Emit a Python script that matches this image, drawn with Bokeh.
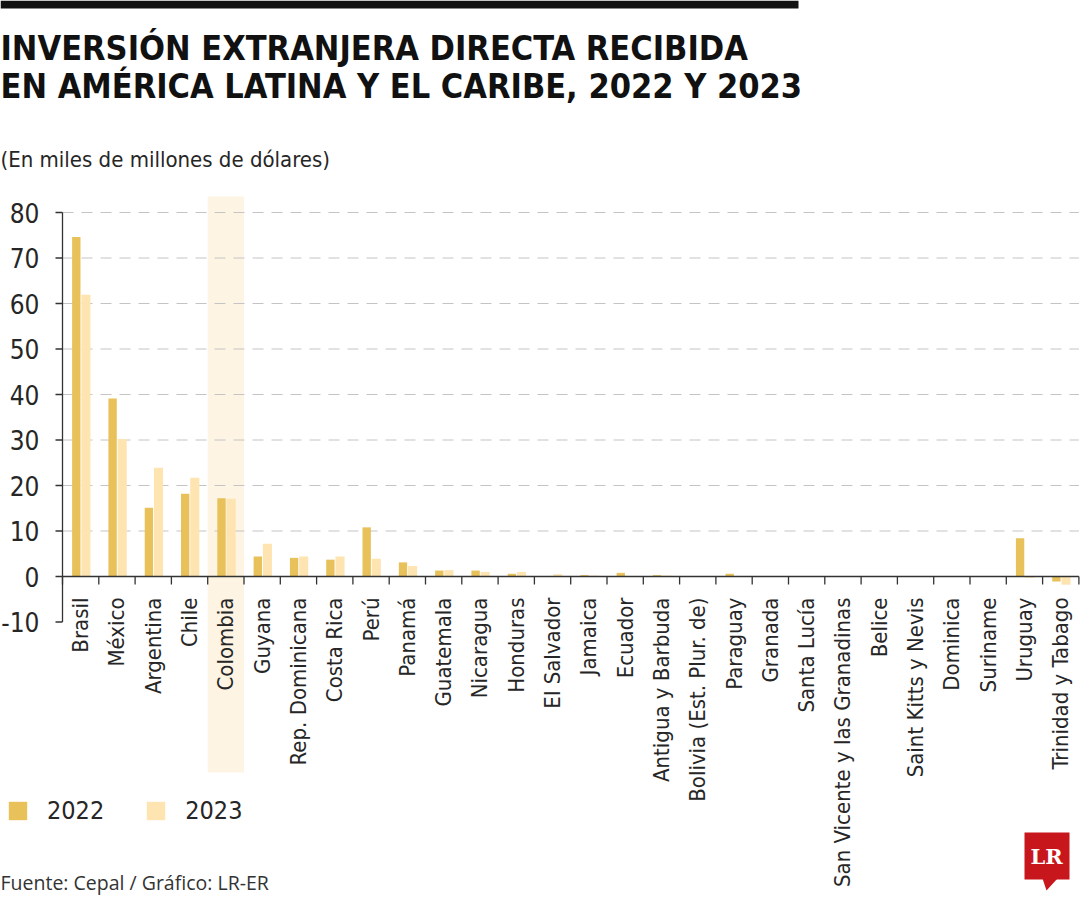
import math
from bokeh.plotting import figure
from bokeh.models import (ColumnDataSource, Range1d, BoxAnnotation, Label, Legend,
                          LegendItem, PolyAnnotation)
from bokeh.core.properties import value
from bokeh.embed import file_html
from bokeh.resources import INLINE

# ---------------- data ----------------
countries = ["Brasil", "México", "Argentina", "Chile", "Colombia", "Guyana",
             "Rep. Dominicana", "Costa Rica", "Perú", "Panamá", "Guatemala",
             "Nicaragua", "Honduras", "El Salvador", "Jamaica", "Ecuador",
             "Antigua y Barbuda", "Bolivia (Est. Plur. de)", "Paraguay", "Granada",
             "Santa Lucía", "San Vicente y las Granadinas", "Belice",
             "Saint Kitts y Nevis", "Dominica", "Suriname", "Uruguay",
             "Trinidad y Tabago"]
v2022 = [74.6, 39.1, 15.1, 18.2, 17.2, 4.4, 4.1, 3.7, 10.8, 3.1, 1.3, 1.3, 0.6,
         0.0, 0.3, 0.8, 0.3, 0.0, 0.6, 0.1, 0.1, 0.1, 0.1, 0.1, 0.05, 0.1, 8.4, -1.1]
v2023 = [61.9, 30.2, 23.9, 21.7, 17.1, 7.2, 4.4, 4.4, 3.9, 2.3, 1.4, 1.0, 1.0,
         0.5, 0.2, 0.1, 0.2, 0.1, 0.1, 0.1, 0.1, 0.1, 0.1, 0.1, 0.05, 0.1, -0.3, -1.8]
y_ticks = [-10, 0, 10, 20, 30, 40, 50, 60, 70, 80]
y_tick_labels = ["-10", "0", "10", "20", "30", "40", "50", "60", "70", "80"]
series_names = ["2022", "2023"]
highlight = "Colombia"

title_lines = ["INVERSIÓN EXTRANJERA DIRECTA RECIBIDA",
               "EN AMÉRICA LATINA Y EL CARIBE, 2022 Y 2023"]
subtitle = "(En miles de millones de dólares)"
source_note = "Fuente: Cepal / Gráfico: LR-ER"

# ---------------- style ----------------
C2022 = "#E8C15A"
C2023 = "#FDE4B0"
BAND = "#FDF4E3"
TXT = "#262626"
AX = "#333333"
NARROW = "DejaVu Sans Condensed, Roboto"

W, H = 1080, 900
PX_CAT = 36.3               # px per category
PX_UNIT = 4.55              # px per y unit
X0_PAGE, Y0_PAGE = 62, 576  # canvas position of (0, 0)

n = len(countries)
x_start = -X0_PAGE / PX_CAT
x_end = x_start + W / PX_CAT
y_end = Y0_PAGE / PX_UNIT
y_start = y_end - H / PX_UNIT

src = ColumnDataSource(dict(
    name=countries,
    center=[i + 0.5 for i in range(n)],
    x22=[i + 0.38 for i in range(n)],
    x23=[i + 0.645 for i in range(n)],
    v22=v2022,
    v23=v2023,
))
bnd = ColumnDataSource(dict(x=[float(i) for i in range(n + 1)], y=[0.0] * (n + 1)))
yt = ColumnDataSource(dict(y=y_ticks, x=[0] * len(y_ticks), lab=y_tick_labels))
grid_y = [t for t in y_ticks if t > 0]
gs = ColumnDataSource(dict(y=grid_y, x0=[0] * len(grid_y), x1=[n] * len(grid_y)))

p = figure(width=W, height=H, output_backend="svg", toolbar_location=None,
           x_range=Range1d(x_start, x_end), y_range=Range1d(y_start, y_end),
           x_axis_location=None, y_axis_location=None,
           min_border=0, outline_line_color=None,
           background_fill_color="white", border_fill_color="white")
p.grid.visible = False

# highlight band (behind everything)
hi = countries.index(highlight)
p.add_layout(BoxAnnotation(left=hi, right=hi + 1,
                           top=(Y0_PAGE - 196) / PX_UNIT,
                           bottom=-(772 - Y0_PAGE) / PX_UNIT,
                           fill_color=BAND, fill_alpha=1, line_color=None,
                           level="underlay"))

# horizontal dashed grid
p.segment(x0="x0", y0="y", x1="x1", y1="y", source=gs, line_color="#c4c4c4",
          line_width=1, line_dash="11 8")

# bars
r22 = p.vbar(x="x22", top="v22", bottom=0, width=0.23, source=src,
             fill_color=C2022, line_color=None)
r23 = p.vbar(x="x23", top="v23", bottom=0, width=0.25, source=src,
             fill_color=C2023, line_color=None)

# y axis: line, ticks, labels
p.segment(x0=0, y0=min(y_ticks), x1=0, y1=max(y_ticks), line_color=AX, line_width=1.3)
p.ray(x="x", y="y", length=7, length_units="screen", angle=math.pi, source=yt,
      line_color=AX, line_width=1.3)
p.text(x="x", y="y", text="lab", source=yt, x_offset=-23, text_align="right",
       text_baseline="middle", text_font=value(NARROW), text_font_size=value("26px"),
       text_color=TXT)

# x axis at zero: line + ticks between categories
p.segment(x0=0, y0=0, x1=n, y1=0, line_color=AX, line_width=1.3)
p.ray(x="x", y="y", length=8, length_units="screen", angle=-math.pi / 2,
      source=bnd, line_color=AX, line_width=1.3)

# category labels
p.text(x="center", y=0, text="name", source=src, angle=math.pi / 2,
       y_offset=21, text_align="right", text_baseline="middle",
       text_font=value(NARROW), text_font_size=value("22px"), text_color=TXT)

# legend
legend = Legend(items=[LegendItem(label=series_names[0], renderers=[r22]),
                       LegendItem(label=series_names[1], renderers=[r23])],
                location=(6, H - 825), orientation="horizontal",
                glyph_width=23, glyph_height=23, label_height=23,
                label_standoff=18, spacing=40, padding=0, margin=0,
                border_line_color=None, background_fill_alpha=0,
                label_text_font=NARROW, label_text_font_size="25px",
                label_text_color=TXT, label_text_baseline="middle")
p.add_layout(legend)

# ---- texts and decorations in screen units (canvas left / bottom) ----
def ly(py):
    return H - py

p.add_layout(BoxAnnotation(left=0, right=798, top=ly(0), bottom=ly(8),
                           left_units="screen", right_units="screen",
                           top_units="screen", bottom_units="screen",
                           fill_color="#111111", fill_alpha=1, line_color=None))

for i, t in enumerate(title_lines):
    p.add_layout(Label(x=0, y=ly(47 + 38 * i), x_units="screen", y_units="screen",
                       text=t, text_font=NARROW, text_font_style="bold",
                       text_font_size="34px", text_color="#111111",
                       text_baseline="alphabetic"))

p.add_layout(Label(x=0, y=ly(159), x_units="screen", y_units="screen",
                   text=subtitle, text_font=NARROW, text_font_size="22px",
                   text_color=TXT, text_baseline="alphabetic"))

p.add_layout(Label(x=0, y=ly(882), x_units="screen", y_units="screen",
                   text=source_note, text_font="Open Sans", text_font_size="19.5px",
                   text_color="#333333", text_baseline="alphabetic"))

# LR logo
p.add_layout(BoxAnnotation(left=1024, right=1069, top=ly(832), bottom=ly(879),
                           left_units="screen", right_units="screen",
                           top_units="screen", bottom_units="screen",
                           fill_color="#C8161D", fill_alpha=1, line_color=None))
p.add_layout(PolyAnnotation(xs=[1042, 1057, 1046], ys=[ly(878), ly(878), ly(890)],
                            xs_units="screen", ys_units="screen",
                            fill_color="#C8161D", fill_alpha=1, line_color=None))
p.add_layout(Label(x=1046, y=ly(856), x_units="screen", y_units="screen",
                   text="LR", text_font="DejaVu Serif", text_font_style="bold",
                   text_font_size="21px", text_color="white", text_align="center",
                   text_baseline="alphabetic"))

open("out.html", "w").write(file_html(p, INLINE))
